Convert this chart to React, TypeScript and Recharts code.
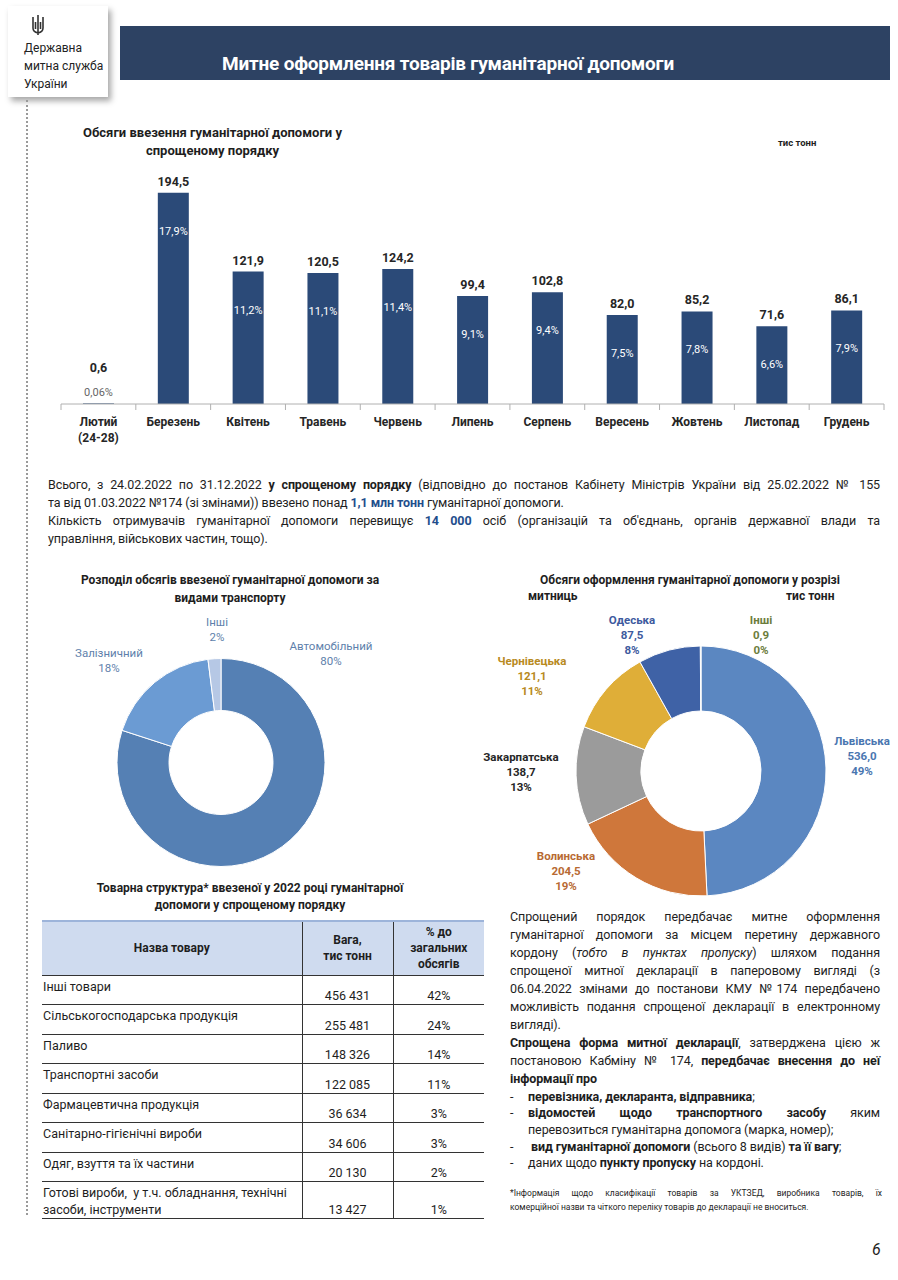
import React from "react";
import { BarChart, Bar, XAxis, YAxis, LabelList, PieChart, Pie, Cell } from "recharts";

// Monthly import volumes, thousand tonnes
const months = ["Лютий\n(24-28)", "Березень", "Квітень", "Травень", "Червень", "Липень", "Серпень", "Вересень", "Жовтень", "Листопад", "Грудень"];
const volumes = [0.6, 194.5, 121.9, 120.5, 124.2, 99.4, 102.8, 82.0, 85.2, 71.6, 86.1];
const shares = [0.06, 17.9, 11.2, 11.1, 11.4, 9.1, 9.4, 7.5, 7.8, 6.6, 7.9];

// Transport split, %
const transportNames = ["Автомобільний", "Залізничний", "Інші"];
const transportShares = [80, 18, 2];
const transportColors = ["#5580b4", "#6b9bd3", "#b6c8e5"];

// Customs split, thousand tonnes
const customsNames = ["Львівська", "Волинська", "Закарпатська", "Чернівецька", "Одеська", "Інші"];
const customsValues = [536.0, 204.5, 138.7, 121.1, 87.5, 0.9];
const customsShares = [49, 19, 13, 11, 8, 0];
const customsColors = ["#5b87c1", "#cf773b", "#9b9b9b", "#dfae38", "#3f62a6", "#6e8b3d"];
const customsLabelColors = ["#4a76b0", "#b86a33", "#262626", "#b88a22", "#3d5a9e", "#6c7d3c"];

// Goods structure table
const goodsNames = [
  "Інші товари",
  "Сільськогосподарська продукція",
  "Паливо",
  "Транспортні засоби",
  "Фармацевтична продукція",
  "Санітарно-гігієнічні вироби",
  "Одяг, взуття та їх частини",
  "Готові вироби,  у т.ч. обладнання, технічні засоби, інструменти",
];
const goodsWeights = [456431, 255481, 148326, 122085, 36634, 34606, 20130, 13427];
const goodsShares = [42, 24, 14, 11, 3, 3, 2, 1];

const FONT = "Roboto, 'Liberation Sans', sans-serif";
const NAVY = "#2b4a78";

const BAR_W = 850;
const BAR_H = 300;
const BAR_MARGIN = { top: 15, right: 6, bottom: 6, left: 21 };
const BAND = (BAR_W - BAR_MARGIN.left - BAR_MARGIN.right) / months.length;

const comma = (v: number, d?: number) => (d === undefined ? String(v) : v.toFixed(d)).replace(".", ",");
const spaced = (v: number) => String(v).replace(/\B(?=(\d{3})+(?!\d))/g, " ");

const barData = months.map((m, i) => ({ month: m, volume: volumes[i], share: shares[i] }));
const transportData = transportNames.map((n, i) => ({ name: n, value: transportShares[i] }));
const customsData = customsNames.map((n, i) => ({ name: n, value: customsValues[i] }));

const CategoryTick = (props: any) => {
  const { x, y, payload, index } = props;
  const lines = String(payload.value).split("\n");
  return (
    <g>
      {index === 0 && <line x1={x - BAND / 2} x2={x - BAND / 2} y1={y} y2={y + 6} stroke="#b0b0b0" />}
      <line x1={x + BAND / 2} x2={x + BAND / 2} y1={y} y2={y + 6} stroke="#b0b0b0" />
      <text x={x} y={y + 22} textAnchor="middle" fontSize={12} fontWeight={700} fill="#262626" fontFamily={FONT}>
        {lines.map((l, i) => (
          <tspan key={i} x={x} dy={i === 0 ? 0 : 16}>
            {l}
          </tspan>
        ))}
      </text>
    </g>
  );
};

const renderBarLabel = (props: any) => {
  const { x, y, width, height, index } = props;
  const cx = x + width / 2;
  const val = comma(volumes[index], 1);
  const pct = comma(shares[index]) + "%";
  if (height < 20) {
    return (
      <g fontFamily={FONT}>
        <text x={cx} y={y - 31} textAnchor="middle" fontSize={12.5} fontWeight={700} fill="#262626">{val}</text>
        <text x={cx} y={y - 7} textAnchor="middle" fontSize={11} fill="#666">{pct}</text>
      </g>
    );
  }
  return (
    <g fontFamily={FONT}>
      <text x={cx} y={y - 7} textAnchor="middle" fontSize={12.5} fontWeight={700} fill="#262626">{val}</text>
      <text x={cx} y={y + 42} textAnchor="middle" fontSize={11} fill="#ffffff">{pct}</text>
    </g>
  );
};

// label anchors relative to the donut centre (styling only)
const transportLabelPos = [
  { dx: 110, dy: -109 },
  { dx: -112, dy: -102 },
  { dx: -4, dy: -133 },
];
const customsLabelPos = [
  { dx: 161, dy: -15 },
  { dx: -135, dy: 100 },
  { dx: -180, dy: 1 },
  { dx: -169, dy: -95 },
  { dx: -69, dy: -136 },
  { dx: 60, dy: -136 },
];

const renderTransportLabel = (props: any) => {
  const { cx, cy, index } = props;
  const p = transportLabelPos[index];
  return (
    <text x={cx + p.dx} y={cy + p.dy - 4} textAnchor="middle" fontSize={11.5} fill="#5e7fab" fontFamily={FONT}>
      <tspan x={cx + p.dx} dy={0}>{transportNames[index]}</tspan>
      <tspan x={cx + p.dx} dy={15}>{transportShares[index] + "%"}</tspan>
    </text>
  );
};

const renderCustomsLabel = (props: any) => {
  const { cx, cy, index } = props;
  const p = customsLabelPos[index];
  return (
    <text x={cx + p.dx} y={cy + p.dy - 11} textAnchor="middle" fontSize={11.5} fontWeight={700} fill={customsLabelColors[index]} fontFamily={FONT}>
      <tspan x={cx + p.dx} dy={0}>{customsNames[index]}</tspan>
      <tspan x={cx + p.dx} dy={15}>{comma(customsValues[index], 1)}</tspan>
      <tspan x={cx + p.dx} dy={15}>{customsShares[index] + "%"}</tspan>
    </text>
  );
};

const abs = (left: number, top: number, extra: React.CSSProperties = {}): React.CSSProperties => ({
  position: "absolute",
  left,
  top,
  ...extra,
});

const jLine: React.CSSProperties = { textAlign: "justify", textAlignLast: "justify", whiteSpace: "nowrap", height: 18 };
const lLine: React.CSSProperties = { whiteSpace: "nowrap", height: 18 };
const bLine: React.CSSProperties = { whiteSpace: "nowrap", height: 16.7, lineHeight: "16.7px" };
const blue: React.CSSProperties = { color: "#1f4e8c", fontWeight: 700 };

export default function App() {
  const rowH = [29.5, 29.5, 29.5, 29.5, 29.5, 29.5, 29.5, 35];
  return (
    <div style={{ position: "absolute", left: 0, top: 0, width: 898, height: 1280, background: "#fff", overflow: "hidden", fontFamily: FONT, color: "#1e1e1e" }}>
      {/* logo */}
      <div style={abs(8, 6, { width: 100, height: 91, background: "#fff", boxShadow: "3px 4px 6px rgba(0,0,0,0.35)" })}>
        <svg width={14} height={22} style={{ position: "absolute", left: 23, top: 8 }}>
          <path d="M7 1 L7 21 M2 3 L2 14 Q2 18 7 19 Q12 18 12 14 L12 3 M4.5 8 L4.5 15 M9.5 8 L9.5 15" stroke="#333" strokeWidth={1.6} fill="none" />
        </svg>
        <div style={{ position: "absolute", left: 16, top: 33, fontSize: 12, lineHeight: "18px", color: "#222" }}>
          Державна<br />митна служба<br />України
        </div>
      </div>
      {/* header */}
      <div style={abs(120, 26, { width: 770, height: 54, background: "#2d4263" })} />
      <div style={abs(222, 52, { fontSize: 19, fontWeight: 700, color: "#fff", whiteSpace: "nowrap", letterSpacing: -0.2 })}>
        Митне оформлення товарів гуманітарної допомоги
      </div>
      {/* dotted rule */}
      <div style={abs(26, 100, { width: 0, height: 1115, borderLeft: "2px dotted #9a9a9a" })} />

      {/* bar chart */}
      <div style={abs(70, 124, { width: 285, textAlign: "center", fontSize: 13, fontWeight: 700, lineHeight: "18px" })}>
        Обсяги ввезення гуманітарної допомоги у<br />спрощеному порядку
      </div>
      <div style={abs(778, 137, { fontSize: 9.5, fontWeight: 700 })}>тис тонн</div>
      <div style={abs(40, 150)}>
        <BarChart width={BAR_W} height={BAR_H} data={barData} margin={BAR_MARGIN} barSize={31}>
          <XAxis dataKey="month" interval={0} axisLine={{ stroke: "#b0b0b0" }} tickLine={false} tickSize={0} tickMargin={0} height={40} tick={<CategoryTick />} />
          <YAxis hide domain={[0, 220]} />
          <Bar dataKey="volume" fill={NAVY} isAnimationActive={false}>
            <LabelList dataKey="volume" content={renderBarLabel} />
          </Bar>
        </BarChart>
      </div>

      {/* summary paragraph */}
      <div style={abs(48, 476, { width: 832, fontSize: 12.5, lineHeight: "18px", letterSpacing: -0.1 })}>
        <div style={jLine}>
          Всього, з 24.02.2022 по 31.12.2022 <b>у спрощеному порядку</b> (відповідно до постанов Кабінету Міністрів України від 25.02.2022 № 155
        </div>
        <div style={lLine}>
          та від 01.03.2022 №174 (зі змінами)) ввезено понад <span style={blue}>1,1 млн тонн</span> гуманітарної допомоги.
        </div>
        <div style={jLine}>
          Кількість отримувачів гуманітарної допомоги перевищує <span style={blue}>14 000</span> осіб (організацій та об'єднань, органів державної влади та
        </div>
        <div style={lLine}>управління, військових частин, тощо).</div>
      </div>

      {/* transport donut */}
      <div style={abs(40, 571, { width: 380, textAlign: "center", fontSize: 12, fontWeight: 700, lineHeight: "18px" })}>
        Розподіл обсягів ввезеної гуманітарної допомоги за<br />видами транспорту
      </div>
      <div style={abs(40, 600)}>
        <PieChart width={380} height={280}>
          <Pie
            data={transportData}
            dataKey="value"
            cx={176}
            cy={157.5}
            innerRadius={52}
            outerRadius={104}
            startAngle={90}
            endAngle={-270}
            stroke="#fff"
            strokeWidth={1}
            label={renderTransportLabel}
            labelLine={false}
            isAnimationActive={false}
          >
            {transportData.map((d, i) => (
              <Cell key={d.name} fill={transportColors[i]} />
            ))}
          </Pie>
        </PieChart>
      </div>

      {/* customs donut */}
      <div style={abs(500, 571, { width: 380, textAlign: "center", fontSize: 12, fontWeight: 700, lineHeight: "18px" })}>
        Обсяги оформлення гуманітарної допомоги у розрізі
      </div>
      <div style={abs(528, 589, { fontSize: 12, fontWeight: 700 })}>митниць</div>
      <div style={abs(786, 589, { fontSize: 12, fontWeight: 700 })}>тис тонн</div>
      <div style={abs(480, 600)}>
        <PieChart width={410} height={300}>
          <Pie
            data={customsData}
            dataKey="value"
            cx={216}
            cy={166}
            innerRadius={60}
            outerRadius={125}
            startAngle={90}
            endAngle={-270}
            stroke="#fff"
            strokeWidth={1}
            label={renderCustomsLabel}
            labelLine={false}
            isAnimationActive={false}
          >
            {customsData.map((d, i) => (
              <Cell key={d.name} fill={customsColors[i]} />
            ))}
          </Pie>
        </PieChart>
      </div>

      {/* goods table */}
      <div style={abs(40, 880, { width: 420, textAlign: "center", fontSize: 12, fontWeight: 700, lineHeight: "17px" })}>
        Товарна структура* ввезеної у 2022 році гуманітарної<br />допомоги у спрощеному порядку
      </div>
      <table style={abs(42, 920, { width: 442, borderCollapse: "collapse", fontSize: 12.5, tableLayout: "fixed" })}>
        <colgroup>
          <col style={{ width: 260 }} />
          <col style={{ width: 91 }} />
          <col style={{ width: 91 }} />
        </colgroup>
        <thead>
          <tr style={{ height: 54, background: "#cfdbef", borderTop: "2px solid #9db4da", borderBottom: "1.5px solid #333" }}>
            <th style={{ fontWeight: 700, fontSize: 12 }}>Назва товару</th>
            <th style={{ fontWeight: 700, fontSize: 12, borderLeft: "1px solid #333", lineHeight: "16px" }}>Вага,<br />тис тонн</th>
            <th style={{ fontWeight: 700, fontSize: 12, borderLeft: "1px solid #333", lineHeight: "16px" }}>% до<br />загальних<br />обсягів</th>
          </tr>
        </thead>
        <tbody>
          {goodsNames.map((n, i) => (
            <tr key={n} style={{ height: rowH[i], borderBottom: "1.5px solid #333" }}>
              <td style={{ verticalAlign: "top", padding: "2px 0 0 1px", lineHeight: "17px", whiteSpace: i === 7 ? "pre-wrap" : "nowrap" }}>{n}</td>
              <td style={{ verticalAlign: "bottom", textAlign: "center", borderLeft: "1px solid #333", paddingBottom: 1 }}>{spaced(goodsWeights[i])}</td>
              <td style={{ verticalAlign: "bottom", textAlign: "center", borderLeft: "1px solid #333", paddingBottom: 1 }}>{goodsShares[i] + "%"}</td>
            </tr>
          ))}
        </tbody>
      </table>

      {/* right text block */}
      <div style={abs(510, 908, { width: 370, fontSize: 12.5, lineHeight: "17.9px", letterSpacing: -0.1 })}>
        <div style={jLine}>Спрощений порядок передбачає митне оформлення</div>
        <div style={jLine}>гуманітарної допомоги за місцем перетину державного</div>
        <div style={jLine}>кордону (<i>тобто в пунктах пропуску</i>) шляхом подання</div>
        <div style={jLine}>спрощеної митної декларації в паперовому вигляді (з</div>
        <div style={jLine}>06.04.2022 змінами до постанови КМУ №174 передбачено</div>
        <div style={jLine}>можливість подання спрощеної декларації в електронному</div>
        <div style={lLine}>вигляді).</div>
        <div style={jLine}><b>Спрощена форма митної декларації</b>, затверджена цією ж</div>
        <div style={jLine}>постановою Кабміну № 174, <b>передбачає внесення до неї</b></div>
        <div style={lLine}><b>інформації про</b></div>
        <div style={{ ...bLine, marginTop: 0.5 }}><span style={{ display: "inline-block", width: 18 }}>-</span><b>перевізника, декларанта, відправника</b>;</div>
        <div style={{ display: "flex", height: 16.7, lineHeight: "16.7px" }}>
          <span style={{ display: "inline-block", width: 18 }}>-</span>
          <div style={{ ...jLine, height: 16.7, flex: 1 }}><b>відомостей щодо транспортного засобу</b> яким</div>
        </div>
        <div style={{ ...bLine, paddingLeft: 18 }}>перевозиться гуманітарна допомога (марка, номер);</div>
        <div style={bLine}><span style={{ display: "inline-block", width: 21 }}>-</span><b>вид гуманітарної допомоги</b> (всього 8 видів) <b>та її вагу</b>;</div>
        <div style={bLine}><span style={{ display: "inline-block", width: 18 }}>-</span>даних щодо <b>пункту пропуску</b> на кордоні.</div>
      </div>
      <div style={abs(510, 1186, { width: 372, fontSize: 8.5, lineHeight: "14px" })}>
        <div style={{ ...jLine, height: 14 }}>*Інформація щодо класифікації товарів за УКТЗЕД, виробника товарів, їх</div>
        <div style={{ ...lLine, height: 14 }}>комерційної назви та чіткого переліку товарів  до декларації не вноситься.</div>
      </div>

      <div style={abs(872, 1240, { fontSize: 16, fontStyle: "italic" })}>6</div>
    </div>
  );
}
